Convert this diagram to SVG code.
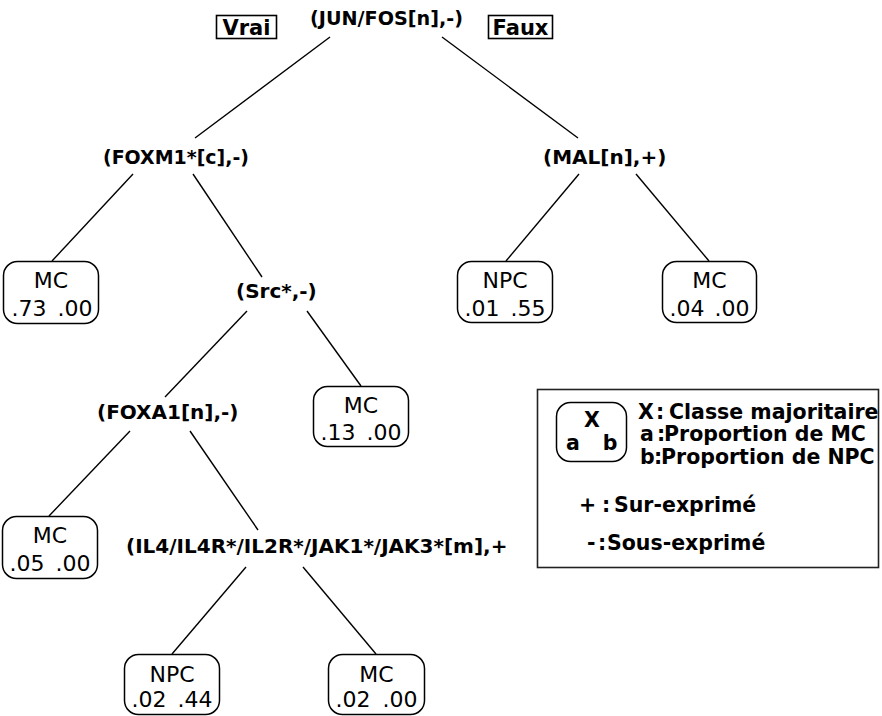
<svg xmlns="http://www.w3.org/2000/svg" width="882" height="716" viewBox="0 0 882 716">
<style>
.lbl{font-family:"DejaVu Sans","Liberation Sans",sans-serif;font-weight:bold;fill:#000}
.leaf rect{fill:#fff;stroke:#000;stroke-width:1.5}
.leaf text{font-family:"DejaVu Sans","Liberation Sans",sans-serif;font-size:22px;fill:#000;text-anchor:middle}
.edges line{stroke:#000;stroke-width:1.4}
.tag{fill:#fff;stroke:#000;stroke-width:1.6}
.leg{font-family:"DejaVu Sans","Liberation Sans",sans-serif;font-weight:bold;font-size:20.5px;fill:#000}
</style>
<rect width="882" height="716" fill="#fff"/>
<g id="connectors" class="edges">
<line x1="330" y1="37" x2="195" y2="138"/>
<line x1="442" y1="37" x2="578" y2="138"/>
<line x1="133" y1="174" x2="52" y2="261"/>
<line x1="193" y1="174" x2="262" y2="277"/>
<line x1="579" y1="174" x2="506" y2="261"/>
<line x1="636" y1="174" x2="709" y2="261"/>
<line x1="247" y1="311" x2="165" y2="397"/>
<line x1="307" y1="311" x2="361" y2="386"/>
<line x1="130" y1="431" x2="49" y2="516"/>
<line x1="190" y1="431" x2="258" y2="530"/>
<line x1="246" y1="567" x2="172" y2="654"/>
<line x1="303" y1="567" x2="376" y2="654"/>
</g>
<g id="vrai"><rect class="tag" x="216.5" y="15.5" width="60" height="23"/><text class="lbl" x="246.5" y="35" font-size="21" text-anchor="middle">Vrai</text></g>
<g id="faux"><rect class="tag" x="488.5" y="15.5" width="64" height="23"/><text class="lbl" x="520.5" y="35" font-size="21" text-anchor="middle">Faux</text></g>
<g id="n-jun"><text class="lbl" x="310" y="25" font-size="19.5" textLength="153" lengthAdjust="spacingAndGlyphs">(JUN/FOS[n],-)</text></g>
<g id="n-foxm1"><text class="lbl" x="103" y="164" font-size="19.5" textLength="146" lengthAdjust="spacingAndGlyphs">(FOXM1*[c],-)</text></g>
<g id="n-mal"><text class="lbl" x="543" y="164" font-size="20">(MAL[n],+)</text></g>
<g id="n-src"><text class="lbl" x="236" y="298" font-size="20">(Src*,-)</text></g>
<g id="n-foxa1"><text class="lbl" x="97" y="419" font-size="20">(FOXA1[n],-)</text></g>
<g id="n-il4"><text class="lbl" x="126" y="553" font-size="20">(IL4/IL4R*/IL2R*/JAK1*/JAK3*[m],+</text></g>
<g id="leaf1" class="leaf"><rect x="3.5" y="261.5" width="95" height="62" rx="14"/><text x="51" y="288">MC</text><text x="29" y="316">.73</text><text x="75" y="316">.00</text></g>
<g id="leaf2" class="leaf"><rect x="457.5" y="261.5" width="95" height="61" rx="14"/><text x="505" y="288">NPC</text><text x="482" y="316">.01</text><text x="528" y="316">.55</text></g>
<g id="leaf3" class="leaf"><rect x="662.5" y="261.5" width="94" height="61" rx="14"/><text x="709.5" y="288">MC</text><text x="687" y="316">.04</text><text x="732" y="316">.00</text></g>
<g id="leaf4" class="leaf"><rect x="313.5" y="386.5" width="95" height="60" rx="14"/><text x="361" y="413">MC</text><text x="338" y="440">.13</text><text x="384" y="440">.00</text></g>
<g id="leaf5" class="leaf"><rect x="2.5" y="516.5" width="95" height="62" rx="14"/><text x="50" y="543">MC</text><text x="27" y="571">.05</text><text x="73" y="571">.00</text></g>
<g id="leaf6" class="leaf"><rect x="124.5" y="654.5" width="95" height="60" rx="14"/><text x="172" y="682">NPC</text><text x="149" y="707">.02</text><text x="195" y="707">.44</text></g>
<g id="leaf7" class="leaf"><rect x="328.5" y="654.5" width="96" height="60" rx="14"/><text x="376.5" y="682">MC</text><text x="353" y="707">.02</text><text x="400" y="707">.00</text></g>
<g id="legend">
<rect x="537.5" y="389.5" width="341" height="178" fill="#fff" stroke="#222" stroke-width="1.6"/>
<rect x="556.5" y="402.5" width="70" height="59" rx="14" fill="#fff" stroke="#000" stroke-width="1.5"/>
<text class="leg" x="592" y="427" text-anchor="middle">X</text>
<text class="leg" x="573" y="450" font-size="17" text-anchor="middle">a</text>
<text class="leg" x="610" y="450" font-size="17" text-anchor="middle">b</text>
<text class="leg" x="638" y="419">X</text><text class="leg" x="656" y="419">:</text><text class="leg" x="669" y="419">Classe majoritaire</text>
<text class="leg" x="640" y="441" font-size="18">a</text><text class="leg" x="657" y="441">:</text><text class="leg" x="664" y="441">Proportion de MC</text>
<text class="leg" x="640" y="464" font-size="18">b</text><text class="leg" x="654" y="464">:</text><text class="leg" x="661" y="464">Proportion de NPC</text>
<text class="leg" x="579" y="512">+</text><text class="leg" x="602" y="512">:</text><text class="leg" x="614" y="512">Sur-exprimé</text>
<text class="leg" x="587" y="550">-</text><text class="leg" x="598" y="550">:</text><text class="leg" x="607" y="550">Sous-exprimé</text>
</g>
</svg>
